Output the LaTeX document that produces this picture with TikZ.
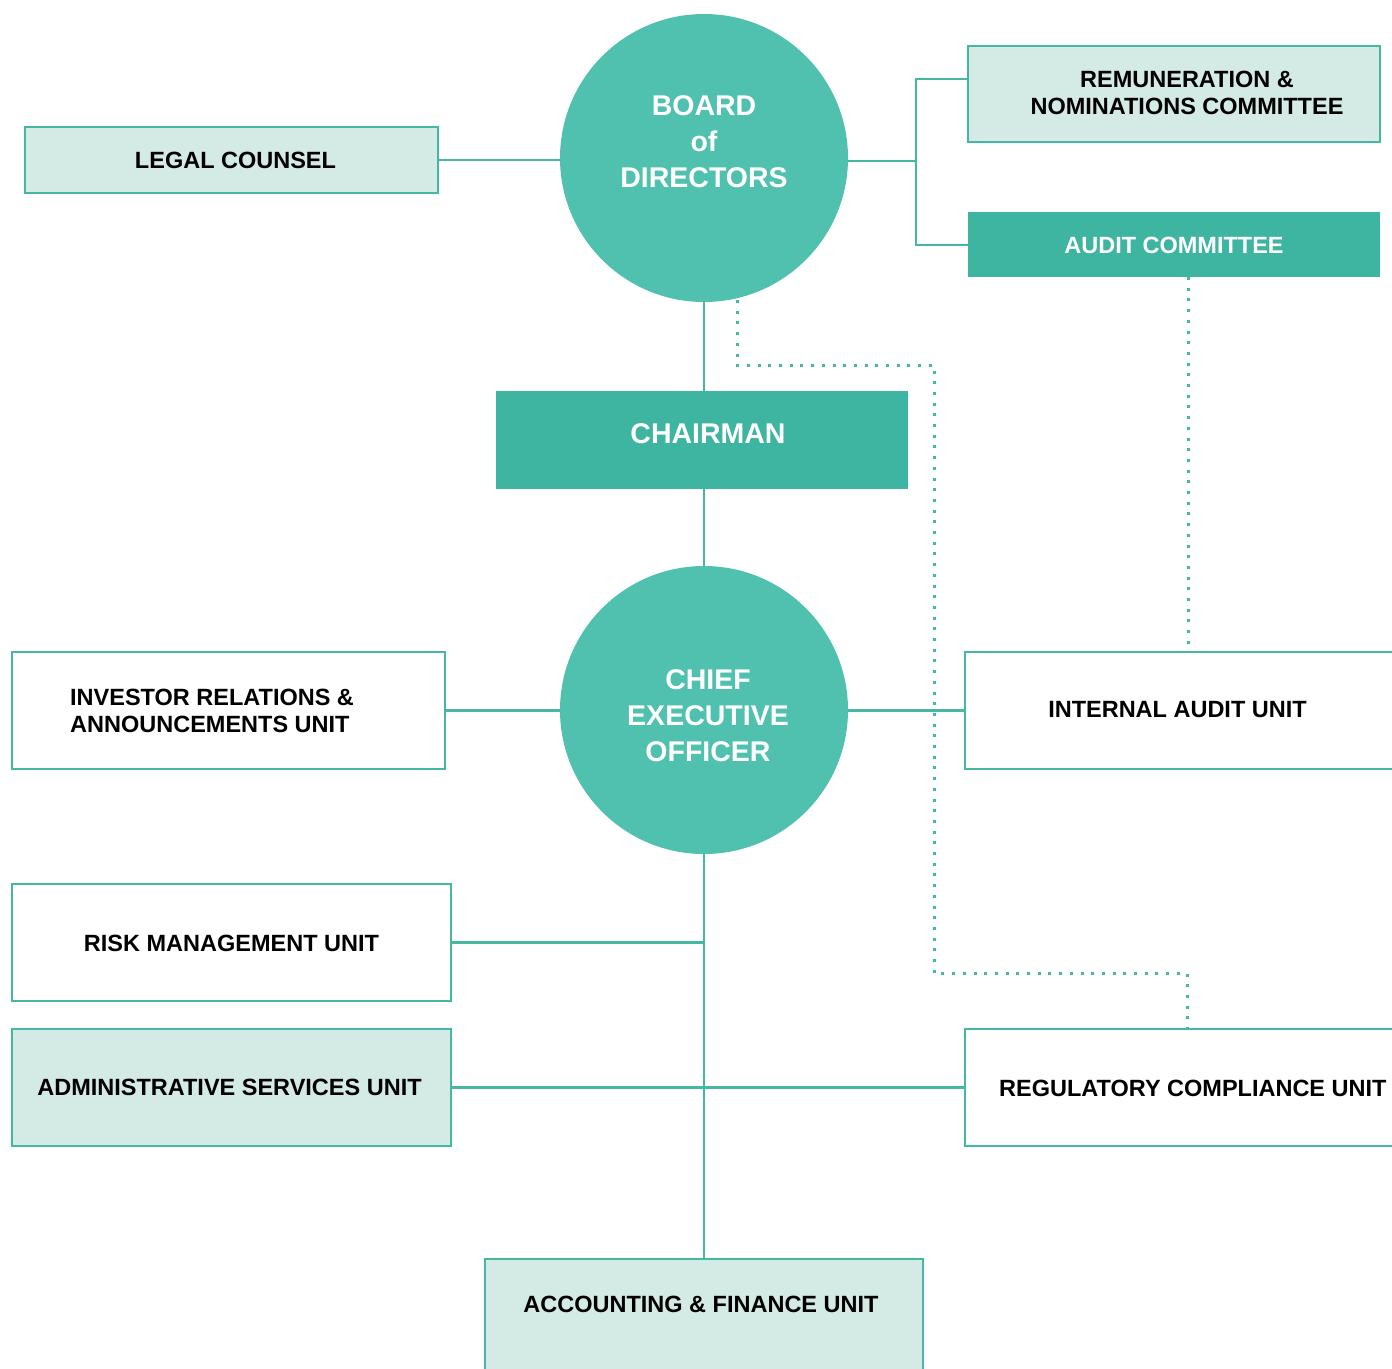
\documentclass[tikz,border=0pt]{standalone}
\usepackage{fontspec}
\setmainfont{Liberation Sans}
\usetikzlibrary{backgrounds}
\begin{document}
\begin{tikzpicture}[x=1pt,y=-1pt,
  conn/.style={draw=lineC, line width=2.8pt},
  dots/.style={draw=lineC, line width=3pt, dash pattern=on 3pt off 7.7pt},
  box/.style={rectangle, draw=lineC, line width=2.8pt, inner sep=0pt, outer sep=0pt},
  lightbox/.style={box, fill=lightC},
  darkbox/.style={rectangle, fill=darkC, inner sep=0pt, outer sep=0pt, text=white},
  circ/.style={circle, fill=circC, minimum size=288pt, inner sep=0pt, outer sep=0pt},
  txt/.style={font=\bfseries\fontsize{23.5}{27}\selectfont, align=center, inner sep=0pt},
  bigtxt/.style={font=\bfseries\fontsize{28.5}{36}\selectfont, align=center, inner sep=0pt, text=white}
]
\definecolor{lineC}{HTML}{44B8A3}
\definecolor{lightC}{HTML}{D4EBE5}
\definecolor{darkC}{HTML}{3EB5A0}
\definecolor{circC}{HTML}{4FC1AE}
\useasboundingbox (0,0) rectangle (1392,1368);
\clip (0,0) rectangle (1392,1368);

% nodes
\node[circ] (board) at (704,158) {};
\node[bigtxt] (boardt) at (704,142) {BOARD\\of\\DIRECTORS};
\node[lightbox, minimum width=413pt, minimum height=66pt] (legal) at (231.5,160) {};
\node[txt] (legalt) at (235.5,160) {LEGAL COUNSEL};
\node[lightbox, minimum width=412pt, minimum height=96pt] (rem) at (1174,94) {};
\node[txt] (remt) at (1187,93) {REMUNERATION \&\\NOMINATIONS COMMITTEE};
\node[darkbox, minimum width=412pt, minimum height=65pt] (audit) at (1174,244.5) {};
\node[txt, text=white] (auditt) at (1174,245) {AUDIT COMMITTEE};
\node[darkbox, minimum width=412pt, minimum height=98pt] (chair) at (702,440) {};
\node[bigtxt] (chairt) at (708,434) {CHAIRMAN};
\node[circ] (ceo) at (704,710) {};
\node[bigtxt] (ceot) at (708,716) {CHIEF\\EXECUTIVE\\OFFICER};
\node[box, minimum width=433pt, minimum height=117pt] (inv) at (228.5,710.5) {};
\node[txt, align=left, anchor=west] (invt) at (70,711) {INVESTOR RELATIONS \&\\ANNOUNCEMENTS UNIT};
\node[box, minimum width=455pt, minimum height=117pt] (intaudit) at (1192.5,710.5) {};
\node[txt] (intauditt) at (1177.5,710) {INTERNAL AUDIT UNIT};
\node[box, minimum width=439pt, minimum height=117pt] (risk) at (231.5,942.5) {};
\node[txt] (riskt) at (231.5,943) {RISK MANAGEMENT UNIT};
\node[lightbox, minimum width=439pt, minimum height=117pt] (admin) at (231.5,1087.5) {};
\node[txt] (admint) at (229.5,1087) {ADMINISTRATIVE SERVICES UNIT};
\node[box, minimum width=455pt, minimum height=117pt] (reg) at (1192.5,1087.5) {};
\node[txt, anchor=west] (regt) at (999,1088) {REGULATORY COMPLIANCE UNIT};
\node[lightbox, minimum width=438pt, minimum height=160pt] (acc) at (704,1339) {};
\node[txt] (acct) at (701,1304) {ACCOUNTING \& FINANCE UNIT};

\begin{pgfonlayer}{background}
% solid connectors
\draw[conn] (legal.east) -- (legal.east -| board.center);
\draw[conn] (board.center |- 0,161) -- (916,161) coordinate (bj);
\draw[conn] (rem.west |- 0,79) -| (bj) |- (audit.west |- 0,245);
\draw[conn] (board.center) -- (board.center |- chair.north);
\draw[conn] (board.center |- chair.south) -- (ceo.center);
\draw[conn] (inv.east) -- (inv.east -| ceo.center);
\draw[conn] (ceo.center |- intaudit.west) -- (intaudit.west);
\draw[conn] (ceo.center) -- (acc.north);
\draw[conn] (risk.east) -- (ceo.center |- risk.east);
\draw[conn] (admin.east) -- (reg.west);
% dotted connectors
\coordinate (dstart) at (737,300);
\draw[dots] (dstart) -- (737,365) -- (934,365) -- (934,973) -- (1187,973) -- (1187,1029);
\draw[dots] (audit.south -| 1188,0) -- (intaudit.north -| 1188,0);
\end{pgfonlayer}
\end{tikzpicture}
\end{document}
